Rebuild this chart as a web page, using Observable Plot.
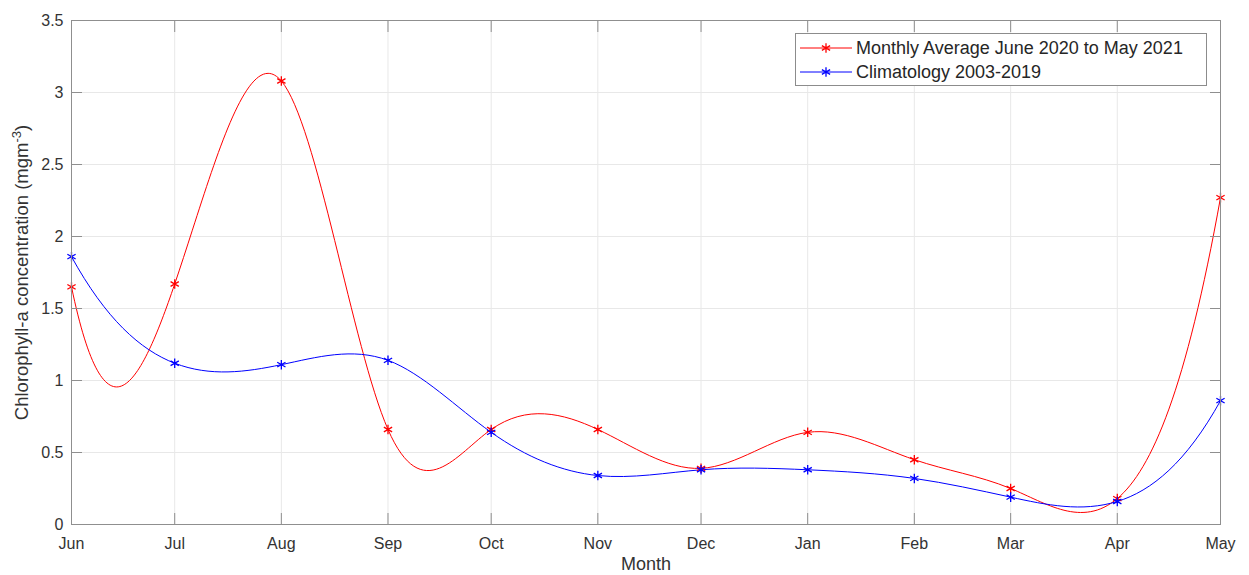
<!DOCTYPE html>
<html><head><meta charset="utf-8">
<script src="https://cdn.jsdelivr.net/npm/d3@7"></script>
<script src="https://cdn.jsdelivr.net/npm/@observablehq/plot@0.6"></script>
<style>
body{margin:0;background:#fff;}
#wrap{position:relative;width:1249px;height:575px;font-family:"Liberation Sans",Arial,sans-serif;}
#legend{position:absolute;left:795px;top:33px;width:412px;height:53px;border:1px solid #8c8c8c;background:#fff;box-sizing:border-box;}
.row{position:absolute;left:0;height:24px;white-space:nowrap;font-size:18px;color:#262626;}
.row svg{position:absolute;left:0;top:0;}
.row span{position:absolute;left:60px;top:1px;line-height:22px;}
</style></head><body><div id="wrap"><div id="legend"></div></div>
<script>
const months = ["Jun","Jul","Aug","Sep","Oct","Nov","Dec","Jan","Feb","Mar","Apr","May"];
const dates = ["2020-06-01","2020-07-01","2020-08-01","2020-09-01","2020-10-01","2020-11-01","2020-12-01","2021-01-01","2021-02-01","2021-03-01","2021-04-01","2021-05-01"];
const monthly = [1.65,1.67,3.08,0.66,0.66,0.66,0.39,0.64,0.45,0.25,0.18,2.27];
const climatology = [1.86,1.12,1.11,1.14,0.64,0.34,0.38,0.38,0.32,0.19,0.16,0.86];
const yTicks = [0,0.5,1,1.5,2,2.5,3,3.5];
const yTickLabels = ["0","0.5","1","1.5","2","2.5","3","3.5"];
const seriesNames = ["Monthly Average June 2020 to May 2021","Climatology 2003-2019"];
const seriesColors = ["#ff0000","#0000ff"];
const xLabel = "Month";
const yLabel = "Chlorophyll-a concentration (mgm-3)";

const xDates = dates.map(d => new Date(d + "T00:00:00Z"));
const monthLabel = new Map(xDates.map((d,i) => [+d, months[i]]));
const yLabelMap = new Map(yTicks.map((v,i) => [v, yTickLabels[i]]));
const data = [];
[monthly, climatology].forEach((vals, s) => vals.forEach((v,i) => data.push({date: xDates[i], value: v, series: seriesNames[s]})));

// Not-a-knot cubic spline curve (like MATLAB's spline), as a d3 curve factory
function solve(A, b) {
  const n = b.length;
  for (let c = 0; c < n; c++) {
    let p = c;
    for (let r = c + 1; r < n; r++) if (Math.abs(A[r][c]) > Math.abs(A[p][c])) p = r;
    [A[c], A[p]] = [A[p], A[c]]; [b[c], b[p]] = [b[p], b[c]];
    for (let r = c + 1; r < n; r++) {
      const f = A[r][c] / A[c][c];
      for (let k = c; k < n; k++) A[r][k] -= f * A[c][k];
      b[r] -= f * b[c];
    }
  }
  const x = new Array(n).fill(0);
  for (let r = n - 1; r >= 0; r--) {
    let s = b[r];
    for (let k = r + 1; k < n; k++) s -= A[r][k] * x[k];
    x[r] = s / A[r][r];
  }
  return x;
}
function curveNotAKnot(context) {
  let xs, ys;
  return {
    areaStart() {}, areaEnd() {},
    lineStart() { xs = []; ys = []; },
    point(x, y) { xs.push(+x); ys.push(+y); },
    lineEnd() {
      const n = xs.length;
      if (!n) return;
      context.moveTo(xs[0], ys[0]);
      if (n < 4) { for (let i = 1; i < n; i++) context.lineTo(xs[i], ys[i]); return; }
      const h = [];
      for (let i = 0; i < n - 1; i++) h.push(xs[i + 1] - xs[i]);
      const A = Array.from({length: n}, () => new Array(n).fill(0));
      const b = new Array(n).fill(0);
      A[0][0] = h[1]; A[0][1] = -(h[0] + h[1]); A[0][2] = h[0];
      for (let i = 1; i < n - 1; i++) {
        A[i][i - 1] = h[i - 1]; A[i][i] = 2 * (h[i - 1] + h[i]); A[i][i + 1] = h[i];
        b[i] = 6 * ((ys[i + 1] - ys[i]) / h[i] - (ys[i] - ys[i - 1]) / h[i - 1]);
      }
      A[n - 1][n - 3] = h[n - 2]; A[n - 1][n - 2] = -(h[n - 3] + h[n - 2]); A[n - 1][n - 1] = h[n - 3];
      const M = solve(A, b);
      const m = [];
      for (let i = 0; i < n - 1; i++) m.push((ys[i + 1] - ys[i]) / h[i] - h[i] * (2 * M[i] + M[i + 1]) / 6);
      m.push((ys[n - 1] - ys[n - 2]) / h[n - 2] + h[n - 2] * (M[n - 2] + 2 * M[n - 1]) / 6);
      for (let i = 0; i < n - 1; i++) {
        const d = h[i] / 3;
        context.bezierCurveTo(xs[i] + d, ys[i] + m[i] * d, xs[i + 1] - d, ys[i + 1] - m[i + 1] * d, xs[i + 1], ys[i + 1]);
      }
    }
  };
}

const axisColor = "#8f8f8f";
const chart = Plot.plot({
  width: 1249, height: 575,
  marginLeft: 71, marginRight: 29, marginTop: 20, marginBottom: 51,
  style: {fontFamily: "Liberation Sans, Arial, sans-serif", fontSize: "16px", color: "#262626", background: "#fff"},
  x: {type: "utc", domain: [xDates[0], xDates[xDates.length-1]]},
  y: {domain: [0, 3.5]},
  color: {domain: seriesNames, range: seriesColors},
  marks: [
    Plot.gridX(xDates, {stroke: "#e8e8e8", strokeOpacity: 1}),
    Plot.gridY(yTicks, {stroke: "#e8e8e8", strokeOpacity: 1}),
    Plot.line(data, {x: "date", y: "value", stroke: "series", z: "series", curve: curveNotAKnot, strokeWidth: 1}),
    Plot.dot(data, {x: "date", y: "value", stroke: "series", symbol: "asterisk", r: 4.5, strokeWidth: 1.3}),
    Plot.frame({stroke: axisColor}),
    Plot.axisX(xDates, {anchor: "bottom", tickSize: -11, tickFormat: () => "", stroke: axisColor}),
    Plot.axisX(xDates, {anchor: "top", tickSize: -11, tickFormat: () => "", stroke: axisColor, label: null}),
    Plot.axisY(yTicks, {anchor: "left", tickSize: -11, tickFormat: () => "", stroke: axisColor, label: null}),
    Plot.axisY(yTicks, {anchor: "right", tickSize: -11, tickFormat: () => "", stroke: axisColor, label: null}),
    Plot.axisX(xDates, {anchor: "bottom", tickSize: 0, tickPadding: 13, tickFormat: d => monthLabel.get(+d), fontSize: 16, fill: "#333", label: null}),
    Plot.axisY(yTicks, {anchor: "left", tickSize: 0, tickPadding: 8, tickFormat: d => yLabelMap.get(d), fontSize: 16, fill: "#333", label: null}),
    Plot.text([xLabel], {frameAnchor: "bottom", dy: 40, text: d => d, fontSize: 18, fill: "#333", lineAnchor: "middle"}),
    Plot.text([yLabel], {frameAnchor: "left", dx: -49, dy: 0, rotate: -90, text: d => d, fontSize: 18.5, fill: "#333", lineAnchor: "middle", textAnchor: "middle"})
  ]
});
document.getElementById("wrap").prepend(chart);

// superscript for unit
d3.select(chart).selectAll("text").each(function() {
  const t = d3.select(this);
  if (t.text() === yLabel) {
    t.text(null);
    t.append("tspan").text("Chlorophyll-a concentration (mgm");
    t.append("tspan").attr("baseline-shift", "super").attr("font-size", "13px").text("-3");
    t.append("tspan").text(")");
  }
});

// legend
const legend = d3.select("#legend");
const sym = d3.symbol(d3.symbolAsterisk, 4.5 * 4.5 * Math.PI)();
seriesNames.forEach((name, i) => {
  const row = legend.append("div").attr("class", "row").style("top", (i === 0 ? 2 : 26) + "px").style("width", "405px");
  const svg = row.append("svg").attr("width", 58).attr("height", 24);
  svg.append("line").attr("x1", 4).attr("x2", 56).attr("y1", 12).attr("y2", 12).attr("stroke", seriesColors[i]).attr("stroke-width", 1);
  svg.append("path").attr("d", sym).attr("transform", "translate(30,12)").attr("fill", "none").attr("stroke", seriesColors[i]).attr("stroke-width", 1.3);
  row.append("span").text(name);
});
</script></body></html>
